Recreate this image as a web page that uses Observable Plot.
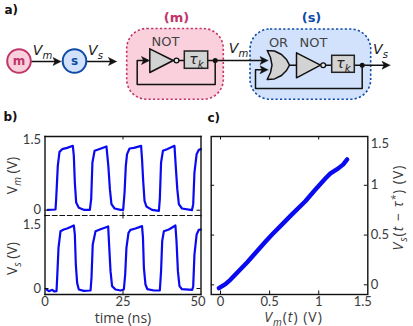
<!DOCTYPE html>
<html><head><meta charset="utf-8">
<script src="https://cdn.jsdelivr.net/npm/d3@7"></script>
<script src="https://cdn.jsdelivr.net/npm/@observablehq/plot@0.6"></script>
<style>
html,body{margin:0;padding:0;background:#fff;width:413px;height:326px;overflow:hidden}
#root{position:relative;width:413px;height:326px}
#root svg{position:absolute;overflow:visible;background:transparent}
</style></head><body><div id="root"></div>
<script>
// ---- measured series ----
const vmTime=[0.9,3.37,3.58,4.1,4.65,5.5,7.1,8.92,9.24,9.56,9.99,10.84,12.44,14.37,14.8,15.2,15.9,17.3,19.7,20.3,20.8,21.3,22.3,24.2,25.05,25.5,25.9,26.3,27.1,28.5,30.8,31.1,31.5,31.9,32.5,34.3,36.5,36.8,37.2,37.8,39.1,41.5,41.9,42.4,42.9,43.9,47.1,47.5,47.9,48.6,49.3,50];
const vmValue=[0.008,0.015,0.234,0.941,1.238,1.295,1.323,1.366,1.153,0.588,0.163,0.05,0.008,0.008,0.234,1.012,1.26,1.295,1.352,0.941,0.446,0.128,0.036,0.008,0.008,0.375,0.941,1.189,1.309,1.323,1.366,1.083,0.588,0.199,0.079,0.008,-0.013,0.234,1.012,1.26,1.295,1.366,0.941,0.446,0.128,0.036,0.001,0.128,0.799,1.189,1.281,1.295];
const vsTime=[0.48,1.23,2.3,3.04,3.69,3.9,4.33,4.97,6.03,7.1,9.24,9.56,9.88,10.3,10.84,12.44,14.6,14.9,15.3,16.2,17.8,20.25,20.6,21,21.5,22.6,24.2,25.27,25.7,26.1,26.76,27.4,29,31.1,31.4,31.7,32.2,32.8,34.9,36.8,37.2,37.56,38.1,39.7,41.8,42.15,42.6,43.1,43.9,47.2,47.5,47.9,48.6,49.3,50];
const vsValue=[-0.021,-0.056,-0.028,-0.063,-0.056,0.226,0.863,1.216,1.252,1.273,1.337,1.146,0.509,0.12,-0.021,-0.05,-0.042,0.226,0.934,1.216,1.259,1.316,0.863,0.368,0.05,-0.021,-0.042,-0.021,0.297,0.863,1.181,1.245,1.273,1.323,1.075,0.44,0.085,-0.014,-0.042,-0.042,0.368,1.004,1.216,1.252,1.337,1.004,0.368,0.05,-0.014,-0.028,0.05,0.721,1.146,1.245,1.252];
const scatterVm=[-0.017,0.05,0.1,0.186,0.27,0.36,0.45,0.525,0.62,0.72,0.864,0.96,1.07,1.12,1.2,1.25,1.29];
const scatterVs=[-0.033,0.007,0.05,0.14,0.225,0.325,0.425,0.505,0.6,0.7,0.84,0.95,1.07,1.12,1.17,1.21,1.26];

// ---- look ----
const BLUE="#0a0af0", INK="#111", TXT="#3a3a3a";
const SANS="'Open Sans', Lato, sans-serif", TICKF="Lato, 'Open Sans', sans-serif", DIAG="'DejaVu Sans', sans-serif";
const PINK_F="#f9d0dc", PINK_S="#c2356b", SKY_F="#d2e2fc", SKY_S="#0f4ba6", GATE="#d3d3d3";
const TICK_FS="13px", TITLE_FS=14;
const root=document.getElementById("root");
const add=(svg,top)=>{svg.style.left="0px";svg.style.top=top+"px";root.appendChild(svg);rich(svg);};
// small markup -> tspans: <i>..</i>, _{..}, ^{..}
function rich(svg){
  svg.querySelectorAll("text").forEach(t=>{
    const s=t.textContent; if(!/[_^]\{|<i>/.test(s))return;
    t.textContent="";
    if(s.includes("(V)")&&s.includes("<i>t</i>"))t.setAttribute("letter-spacing","1");
    const re=/<i>(.*?)<\/i>|([_^])\{(.*?)\}|([^<_^]+)/g; let m;
    const fs=parseFloat(getComputedStyle(t).fontSize)||12; let pending=0;
    const span=(txt,italic,small,dy)=>{const e=document.createElementNS("http://www.w3.org/2000/svg","tspan");
      e.textContent=txt; if(italic)e.setAttribute("font-style","italic");
      if(small)e.setAttribute("font-size",fs*0.72);
      if(dy)e.setAttribute("dy",dy); t.appendChild(e);};
    while((m=re.exec(s))){
      if(m[1]!==undefined){span(m[1],true,false,pending);pending=0;}
      else if(m[2]){const d=(m[2]==="_"?1:-1)*fs*0.28;span(m[3],true,true,pending+d);pending=-d;}
      else {span(m[4],false,false,pending);pending=0;}
    }
  });
}
const xy=(a,b)=>a.map((x,i)=>({x,y:b[i]}));
const W=413;
const ml=44.5, mr=W-200.5;

// ---- panel b ----
function bPanel(top,h,dom,series,marksExtra){
  return Plot.plot({width:W,height:h,marginLeft:ml,marginRight:mr,marginTop:0,marginBottom:0,
    style:{fontFamily:TICKF,fontSize:TICK_FS,color:TXT,background:"transparent"},
    x:{domain:[0,50],axis:null},y:{domain:dom,axis:null},
    marks:[
      Plot.line(series,{x:"x",y:"y",stroke:BLUE,strokeWidth:2.2,curve:"linear"}),
      Plot.ruleY([0],{y:d=>d,stroke:INK,strokeWidth:1,insetRight:156-4}),
      Plot.ruleY([0],{y:d=>d,stroke:INK,strokeWidth:1,insetLeft:156-4}),
      Plot.ruleX([25],{x:d=>d,stroke:INK,strokeWidth:1,insetBottom:h-3.5}),
      Plot.ruleX([25],{x:d=>d,stroke:INK,strokeWidth:1,insetTop:h-3.5}),
      ...marksExtra
    ]});
}
const frameStyle={stroke:INK,strokeWidth:1.4};
add(bPanel(0,79,[-0.1125,1.564],xy(vmTime,vmValue),[
  Plot.frame({anchor:"top",...frameStyle}),Plot.frame({anchor:"left",...frameStyle}),Plot.frame({anchor:"right",...frameStyle}),
  Plot.frame({anchor:"bottom",stroke:INK,strokeWidth:1.2,strokeDasharray:"4.5 3"}),
  Plot.axisY({ticks:[0,1.5],tickSize:0,tickPadding:4,tickFormat:d=>String(d),label:null}),
]),136);
add(bPanel(0,79,[-0.127,1.549],xy(vsTime,vsValue),[
  Plot.frame({anchor:"bottom",...frameStyle}),Plot.frame({anchor:"left",...frameStyle}),Plot.frame({anchor:"right",...frameStyle}),
  Plot.axisY({ticks:[0],tickSize:0,tickPadding:4,tickFormat:d=>String(d),label:null}),
  Plot.axisY({ticks:[1.5],tickSize:0,tickPadding:4,dy:7,tickFormat:d=>String(d),label:null}),
  Plot.axisX({ticks:[0,25],anchor:"bottom",tickSize:0,tickPadding:2,tickFormat:d=>String(d),label:null}),
  Plot.axisX({ticks:[50],anchor:"bottom",tickSize:0,tickPadding:2,dx:-3,tickFormat:d=>String(d),label:null}),
]),215);

// ---- panel c ----
const cT=[0,0.5,1], cl=210.7, cr=W-367.3, cw=W-cl-cr, ch=158;
add(Plot.plot({width:W,height:ch,marginLeft:cl,marginRight:cr,marginTop:0,marginBottom:0,
  style:{fontFamily:TICKF,fontSize:TICK_FS,color:TXT,background:"transparent"},
  x:{domain:[-0.095,1.5],axis:null},y:{domain:[-0.097,1.49],axis:null},
  marks:[
    Plot.line(xy(scatterVm,scatterVs),{x:"x",y:"y",stroke:BLUE,strokeWidth:4.4,strokeLinecap:"round"}),
    Plot.frame(frameStyle),
    Plot.ruleX(cT,{x:d=>d,stroke:INK,strokeWidth:1,insetTop:ch-3.5}),
    Plot.ruleX(cT,{x:d=>d,stroke:INK,strokeWidth:1,insetBottom:ch-3.5}),
    Plot.ruleY(cT,{y:d=>d,stroke:INK,strokeWidth:1,insetLeft:cw-3.5}),
    Plot.ruleY(cT,{y:d=>d,stroke:INK,strokeWidth:1,insetRight:cw-3.5}),
    Plot.axisX({ticks:cT,anchor:"bottom",tickSize:0,tickPadding:2,tickFormat:d=>String(d),label:null}),
    Plot.axisX({ticks:[1.5],anchor:"bottom",tickSize:0,tickPadding:2,dx:-5,tickFormat:d=>String(d),label:null}),
    Plot.axisY({ticks:cT,anchor:"right",tickSize:0,tickPadding:3,tickFormat:d=>String(d),label:null}),
    Plot.axisY({ticks:[1.49],anchor:"right",tickSize:0,tickPadding:3,dy:7,tickFormat:()=>"1.5",label:null}),
  ]}),136);

// ---- schematic and labels, drawn in a page-sized identity scale ----
const boxes=[
  {x1:126.7,x2:223.3,y1:28.5,y2:99.3,fill:PINK_F,stroke:PINK_S},
  {x1:250,x2:370.7,y1:29,y2:99.3,fill:SKY_F,stroke:SKY_S}];
const wires=[
  [[30,61],[58,61]],[[86,61],[113,61]],
  [[172.7,60],[184.3,60]],[[207.7,60],[265,60]],
  [[214.7,60],[214.7,84],[136.7,84],[136.7,60],[147,60]],
  [[289,64.7],[296,64.7]],[[320,64.7],[331.7,64.7]],[[354.3,64.7],[386,64.7]],
  [[361.7,64.7],[361.7,88],[255,88],[255,69.3],[265,69.3]]];
const triangles=[[[149.3,48.3],[149.3,72],[172.7,60],[149.3,48.3]],[[296,52.3],[296,77.3],[320,64.7],[296,52.3]]];
const orGate=[[266.7,50],[274,50.5],[281,54],[286,59],[289,64.7],[286,70],[281,75],[274,78.4],[266.7,79],[270,72],[271.5,64.7],[270,57],[266.7,50]];
const arrowTips=[[60.5,61],[116,61],[149,60],[267.5,60],[267.5,69.3],[389.5,64.7]];
const arrowPolys=arrowTips.map(([x,y])=>[[x,y],[x-8,y-4],[x-6,y],[x-8,y+4],[x,y]]);
const bubbles=[[176,60],[322.7,64.7]];
const joints=[[214.7,60],[361.7,64.7]];
const tauBoxes=[{x1:184.3,x2:207.7,y1:51,y2:68.3},{x1:331.7,x2:354.3,y1:55.3,y2:72.3}];
const nodes=[{x:18.5,y:60.5,t:"m",fill:PINK_F,stroke:PINK_S},{x:74,y:60.5,t:"s",fill:SKY_F,stroke:SKY_S}];
const poly=(arr)=>arr.flatMap((p,i)=>p.map(([x,y])=>({x,y,id:i})));
const dLabels=[
  {x:165,y:41.5,t:"NOT"},{x:278,y:42,t:"OR"},{x:313,y:42,t:"NOT"}];
const vLabels=[
  {x:42,y:50,t:"<i>V</i>_{m}"},{x:95,y:50,t:"<i>V</i>_{s}"},
  {x:238,y:48,t:"<i>V</i>_{m}"},{x:380,y:49.5,t:"<i>V</i>_{s}"}];
const tauLabels=[{x:196,y:59.5,t:"<i>τ</i>_{k}"},{x:343,y:63.5,t:"<i>τ</i>_{k}"}];
const tStyle={x:"x",y:"y",text:"t"};
add(Plot.plot({width:W,height:326,margin:0,
  x:{domain:[0,W],range:[0,W],axis:null},y:{domain:[0,326],range:[0,326],axis:null},
  style:{background:"transparent",fontFamily:DIAG},
  marks:[
    Plot.rect(boxes,{x1:"x1",x2:"x2",y1:"y1",y2:"y2",fill:"fill",stroke:"stroke",rx:20,strokeWidth:1.6,strokeDasharray:"2.2 2.2"}),
    Plot.line(poly(wires),{x:"x",y:"y",z:"id",stroke:INK,strokeWidth:1.5,curve:"linear"}),
    Plot.line(poly(triangles),{x:"x",y:"y",z:"id",fill:GATE,stroke:INK,strokeWidth:1.5,curve:"linear"}),
    Plot.line(orGate,{x:d=>d[0],y:d=>d[1],fill:GATE,stroke:INK,strokeWidth:1.5,curve:"linear"}),
    Plot.line(poly(arrowPolys),{x:"x",y:"y",z:"id",fill:INK,stroke:INK,strokeWidth:0.5,curve:"linear"}),
    Plot.dot(bubbles,{x:d=>d[0],y:d=>d[1],r:2.4,fill:"#e8e8e8",stroke:INK,strokeWidth:1.3}),
    Plot.dot(joints,{x:d=>d[0],y:d=>d[1],r:2.5,fill:INK}),
    Plot.rect(tauBoxes,{x1:"x1",x2:"x2",y1:"y1",y2:"y2",fill:GATE,stroke:"#222",strokeWidth:1.5}),
    Plot.dot(nodes,{x:"x",y:"y",r:11.8,fill:"fill",stroke:"stroke",strokeWidth:2}),
    Plot.text(nodes,{...tStyle,fill:"stroke",fontWeight:"bold",fontSize:12}),
    Plot.text(dLabels,{...tStyle,fontSize:13,fill:"#444"}),
    Plot.text(vLabels,{...tStyle,fontSize:14,fill:"#222"}),
    Plot.text(tauLabels,{...tStyle,fontSize:14,fill:"#222"}),
    Plot.text([{x:176,y:17,t:"(m)"}],{...tStyle,fontSize:13,fontWeight:"bold",fill:PINK_S}),
    Plot.text([{x:311,y:17,t:"(s)"}],{...tStyle,fontSize:13,fontWeight:"bold",fill:SKY_S}),
    Plot.text([{x:4,y:10,t:"a)"},{x:3,y:117,t:"b)"},{x:207,y:118,t:"c)"}],{...tStyle,fontSize:12,fontWeight:"bold",textAnchor:"start",fill:"#111"}),
    Plot.text([{x:122.5,y:318,t:"time (ns)"},{x:293,y:317,t:"<i>V</i>_{m}(<i>t</i>) (V)"}],{...tStyle,fontSize:TITLE_FS,fontFamily:SANS,fill:TXT}),
    Plot.text([{x:12,y:175,t:"V_{m} (V)"},{x:12,y:258,t:"V_{s} (V)"}],{...tStyle,fontSize:TITLE_FS,fontFamily:SANS,fill:TXT,rotate:-90}),
    Plot.text([{x:398,y:207,t:"<i>V</i>_{s}(<i>t</i> − <i>τ</i>^{*}) (V)"}],{...tStyle,fontSize:TITLE_FS,fontFamily:SANS,fill:TXT,rotate:-90}),
  ]}),0);
</script></body></html>
